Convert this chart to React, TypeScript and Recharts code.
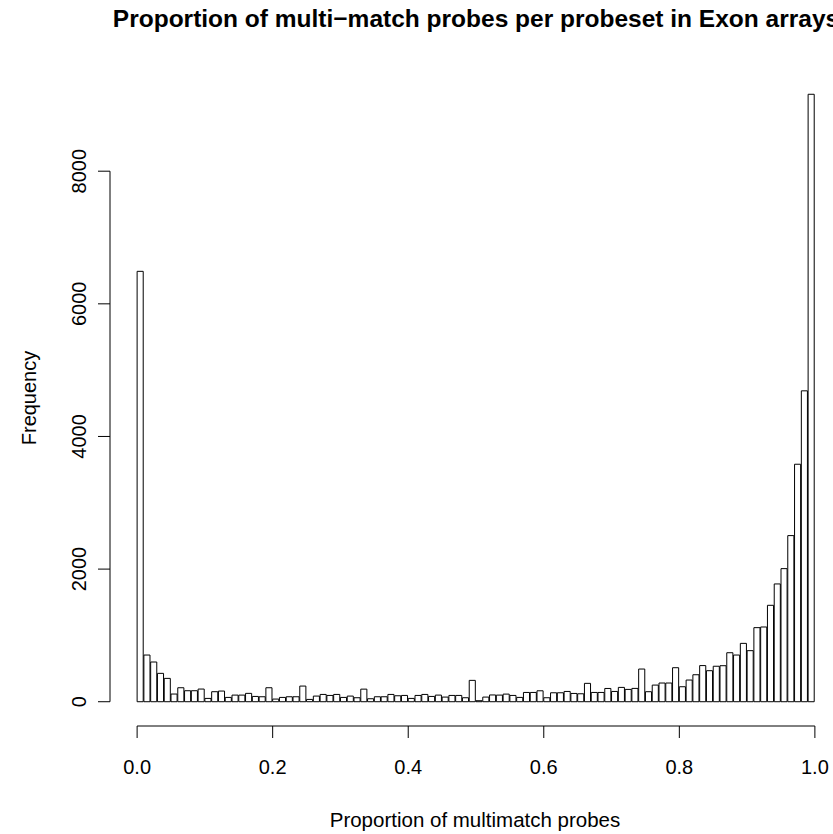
import React from "react"
import { BarChart, Bar, XAxis, YAxis, ReferenceLine } from "recharts"

// histogram of 100 bins over [0, 1]
const binCounts = [
  6490, 704, 599, 428, 352, 116, 211, 166, 166, 191,
  50, 151, 161, 65, 100, 100, 126, 80, 75, 211,
  40, 65, 75, 75, 236, 35, 85, 110, 95, 110,
  65, 85, 60, 190, 45, 75, 75, 110, 90, 95,
  50, 95, 110, 80, 100, 70, 95, 95, 60, 322,
  15, 70, 102, 100, 115, 95, 65, 140, 140, 165,
  60, 135, 135, 155, 125, 120, 277, 140, 140, 200,
  155, 216, 186, 201, 493, 151, 251, 282, 282, 513,
  226, 327, 407, 545, 468, 535, 543, 739, 704, 880,
  770, 1117, 1127, 1454, 1776, 2007, 2505, 3581, 4688, 9160,
]
const xTicks = [0, 0.2, 0.4, 0.6, 0.8, 1]
const yTicks = [0, 2000, 4000, 6000, 8000]

const data = binCounts.map((count, i) => ({ mid: (i + 0.5) / binCounts.length, count }))

const FONT = "'Liberation Sans', Arial, Helvetica, sans-serif"
const W = 842
const H = 834
const X_DOMAIN: [number, number] = [-0.04, 1.04]
const Y_DOMAIN: [number, number] = [-366, 9526]
const LEFT = 110
const TOP = 70
const X_AXIS_H = 108
const plotW = W - LEFT

function YTick({ x, y, payload }: any) {
  return (
    <text
      x={x}
      y={y}
      transform={`rotate(-90 ${x} ${y})`}
      textAnchor="middle"
      fontSize={20}
      fontFamily={FONT}
      fill="#000"
    >
      {payload.value}
    </text>
  )
}

export default function App() {
  return (
    <div style={{ position: "absolute", left: 0, top: 0, width: 833, height: 834, overflow: "hidden", background: "#fff" }}>
      <BarChart
        width={W}
        height={H}
        data={data}
        margin={{ top: TOP, right: 0, bottom: 0, left: 0 }}
        barCategoryGap={0}
        barGap={0}
      >
        <XAxis
          type="number"
          dataKey="mid"
          domain={X_DOMAIN}
          ticks={xTicks}
          allowDataOverflow
          height={X_AXIS_H}
          axisLine={false}
          tickSize={12}
          tickMargin={22}
          tickLine={{ stroke: "#000" }}
          tick={{ fill: "#000", fontSize: 20, fontFamily: FONT }}
          tickFormatter={(v) => Number(v).toFixed(1)}
        />
        <YAxis
          type="number"
          domain={Y_DOMAIN}
          ticks={yTicks}
          allowDataOverflow
          width={LEFT}
          axisLine={false}
          tickSize={12}
          tickMargin={12}
          tickLine={{ stroke: "#000" }}
          tick={<YTick />}
        />
        <Bar
          dataKey="count"
          fill="#fff"
          stroke="#000"
          strokeWidth={1}
          barSize={(plotW * 0.01) / (X_DOMAIN[1] - X_DOMAIN[0])}
          isAnimationActive={false}
        />
        <ReferenceLine
          segment={[{ x: X_DOMAIN[0], y: yTicks[0] }, { x: X_DOMAIN[0], y: yTicks[yTicks.length - 1] }]}
          stroke="#000"
          ifOverflow="visible"
        />
        <ReferenceLine
          segment={[{ x: xTicks[0], y: Y_DOMAIN[0] }, { x: xTicks[xTicks.length - 1], y: Y_DOMAIN[0] }]}
          stroke="#000"
          ifOverflow="visible"
        />
      </BarChart>
      <svg width={833} height={834} style={{ position: "absolute", left: 0, top: 0, pointerEvents: "none" }}>
        <text x={476} y={27} textAnchor="middle" fontSize={24.5} fontWeight="bold" fontFamily={FONT} fill="#000">
          Proportion of multi−match probes per probeset in Exon arrays
        </text>
        <text x={475} y={827} textAnchor="middle" fontSize={20.5} fontFamily={FONT} fill="#000">
          Proportion of multimatch probes
        </text>
        <text x={36} y={398} transform="rotate(-90 36 398)" textAnchor="middle" fontSize={20} fontFamily={FONT} fill="#000">
          Frequency
        </text>
      </svg>
    </div>
  )
}
